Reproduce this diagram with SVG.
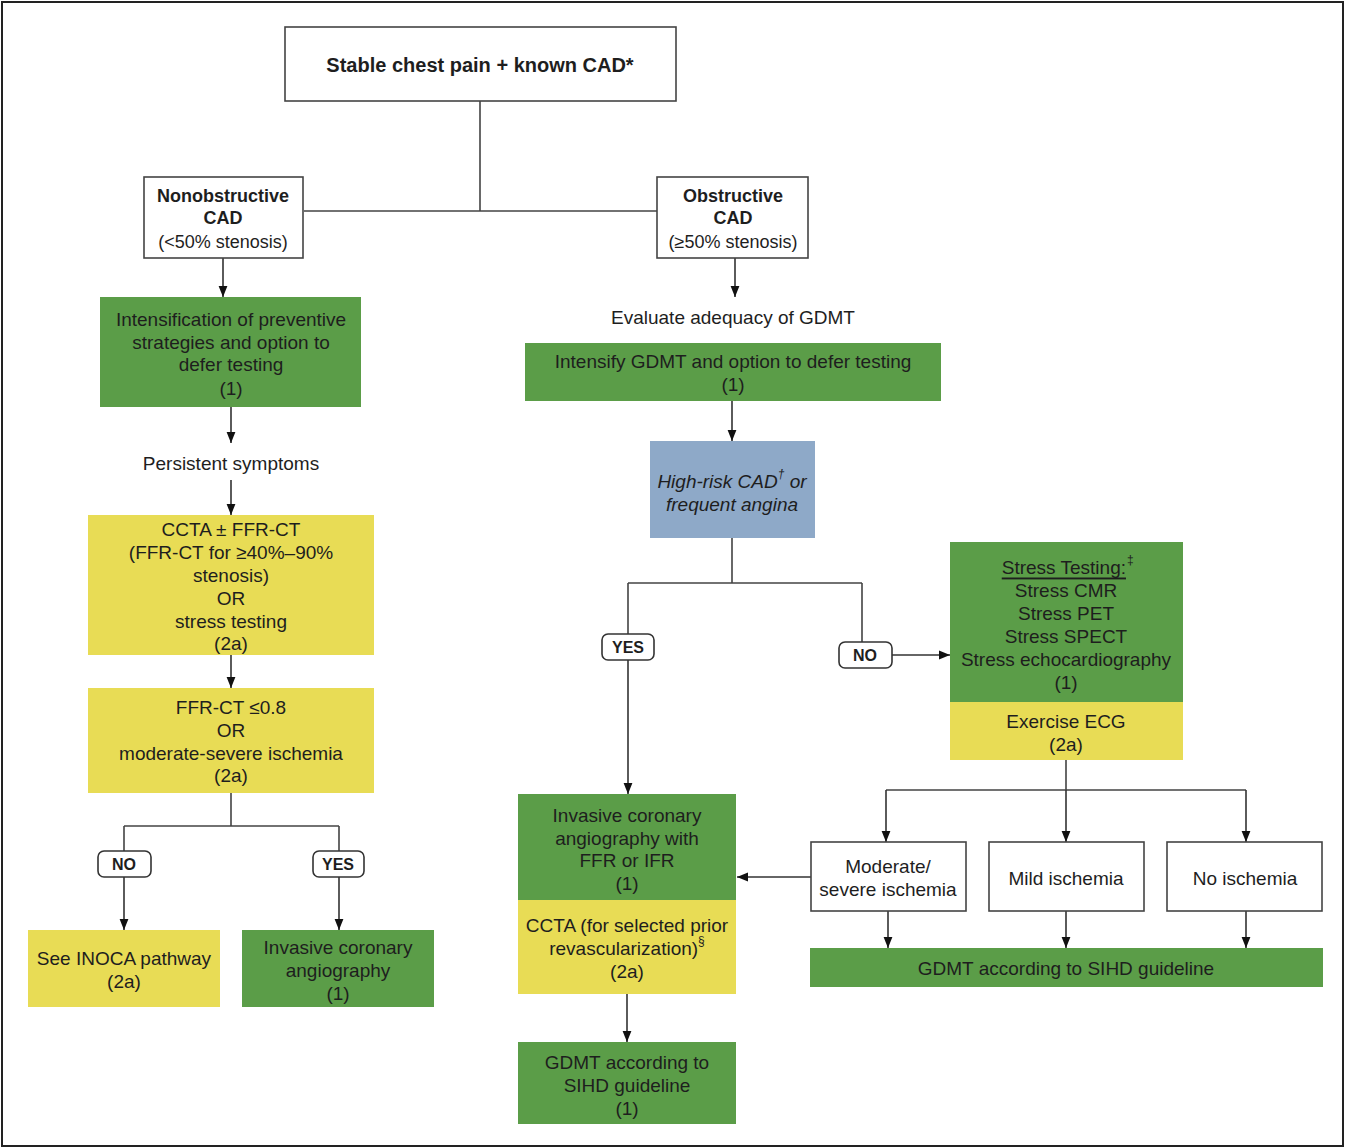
<svg xmlns="http://www.w3.org/2000/svg" width="1346" height="1148" viewBox="0 0 1346 1148">
<defs>
<marker id="ah" viewBox="0 0 10 10" refX="10" refY="5" markerWidth="11" markerHeight="11" markerUnits="userSpaceOnUse" orient="auto">
<path d="M0,1 L10,5 L0,9 z" fill="#111"/>
</marker>
<style>
text{font-family:"Liberation Sans",Arial,sans-serif;font-size:19px;fill:#1e1e1e;text-anchor:middle;dominant-baseline:central}
.b{font-weight:bold;font-size:18px}
.it{font-style:italic}
.wb{fill:#fff;stroke:#444;stroke-width:1.6}
.g{fill:#5b9d48}
.y{fill:#e8dc55}
.bl{fill:#8ea9c8}
.pill{fill:#fff;stroke:#333;stroke-width:1.6}
.pt{font-weight:bold;font-size:16px}
.sup{font-size:12px}
.c{fill:none;stroke:#444;stroke-width:1.6}
.a{fill:none;stroke:#333;stroke-width:1.6;marker-end:url(#ah)}
</style>
</defs>
<rect x="0" y="0" width="1346" height="1148" fill="#fff"/>
<rect x="2" y="2" width="1341" height="1144" fill="none" stroke="#222" stroke-width="2"/>

<g id="connectors">
<path class="c" d="M480,101 V211 M304,211 H657"/>
<path class="a" d="M223,258 V297"/>
<path class="a" d="M231,407 V443"/>
<path class="a" d="M231,480 V515"/>
<path class="a" d="M231,655 V688"/>
<path class="c" d="M231,793 V826 M124,826 H339 M124,826 V851 M339,826 V851"/>
<path class="a" d="M124,877 V930"/>
<path class="a" d="M339,877 V930"/>
<path class="a" d="M735,258 V297"/>
<path class="a" d="M732,401 V441"/>
<path class="c" d="M732,538 V583 M628,583 H862 M628,583 V634 M862,583 V642"/>
<path class="a" d="M628,660 V794"/>
<path class="a" d="M892,655 H950"/>
<path class="c" d="M1066,760 V790 M886,790 H1246"/>
<path class="a" d="M886,790 V842"/>
<path class="a" d="M1066,790 V842"/>
<path class="a" d="M1246,790 V842"/>
<path class="a" d="M811,877 H737"/>
<path class="a" d="M888,911 V948"/>
<path class="a" d="M1066,911 V948"/>
<path class="a" d="M1246,911 V948"/>
<path class="a" d="M627,994 V1042"/>
</g>

<g id="start">
<rect class="wb" x="285" y="27" width="391" height="74"/>
<text x="480" y="65" style="font-weight:bold;font-size:20px">Stable chest pain + known CAD*</text>
</g>

<g id="nonobstructive">
<rect class="wb" x="144" y="177" width="159" height="81"/>
<text class="b" x="223" y="196">Nonobstructive</text>
<text class="b" x="223" y="218">CAD</text>
<text x="223" y="242" style="font-size:18px">(&lt;50% stenosis)</text>
</g>

<g id="obstructive">
<rect class="wb" x="657" y="177" width="151" height="81"/>
<text class="b" x="733" y="196">Obstructive</text>
<text class="b" x="733" y="218">CAD</text>
<text x="733" y="242" style="font-size:18px">(≥50% stenosis)</text>
</g>

<g id="intensification">
<rect class="g" x="100" y="297" width="261" height="110"/>
<text x="231" y="319">Intensification of preventive</text>
<text x="231" y="342">strategies and option to</text>
<text x="231" y="364">defer testing</text>
<text x="231" y="388">(1)</text>
</g>

<g id="persistent">
<text x="231" y="463">Persistent symptoms</text>
</g>

<g id="ccta">
<rect class="y" x="88" y="515" width="286" height="140"/>
<text x="231" y="529">CCTA ± FFR-CT</text>
<text x="231" y="552">(FFR-CT for ≥40%–90%</text>
<text x="231" y="575">stenosis)</text>
<text x="231" y="598">OR</text>
<text x="231" y="621">stress testing</text>
<text x="231" y="643">(2a)</text>
</g>

<g id="ffrct">
<rect class="y" x="88" y="688" width="286" height="105"/>
<text x="231" y="707">FFR-CT ≤0.8</text>
<text x="231" y="730">OR</text>
<text x="231" y="753">moderate-severe ischemia</text>
<text x="231" y="775">(2a)</text>
</g>

<g id="no-left">
<rect class="pill" x="98" y="851" width="53" height="26" rx="6"/>
<text class="pt" x="124" y="864">NO</text>
</g>
<g id="yes-left">
<rect class="pill" x="313" y="851" width="51" height="26" rx="6"/>
<text class="pt" x="338" y="864">YES</text>
</g>

<g id="inoca">
<rect class="y" x="28" y="930" width="192" height="77"/>
<text x="124" y="958">See INOCA pathway</text>
<text x="124" y="981">(2a)</text>
</g>

<g id="ica-left">
<rect class="g" x="242" y="930" width="192" height="77"/>
<text x="338" y="947">Invasive coronary</text>
<text x="338" y="970">angiography</text>
<text x="338" y="993">(1)</text>
</g>

<g id="evaluate">
<text x="733" y="317">Evaluate adequacy of GDMT</text>
</g>

<g id="intensify-gdmt">
<rect class="g" x="525" y="343" width="416" height="58"/>
<text x="733" y="361">Intensify GDMT and option to defer testing</text>
<text x="733" y="384">(1)</text>
</g>

<g id="highrisk">
<rect class="bl" x="650" y="441" width="165" height="97"/>
<text class="it" x="732" y="481">High-risk CAD<tspan class="sup" dy="-7">†</tspan><tspan dy="7"> or</tspan></text>
<text class="it" x="732" y="504">frequent angina</text>
</g>

<g id="yes-right">
<rect class="pill" x="602" y="634" width="52" height="26" rx="6"/>
<text class="pt" x="628" y="647">YES</text>
</g>
<g id="no-right">
<rect class="pill" x="839" y="642" width="53" height="26" rx="6"/>
<text class="pt" x="865" y="655">NO</text>
</g>

<g id="stress">
<rect class="g" x="950" y="542" width="233" height="160"/>
<rect class="y" x="950" y="702" width="233" height="58"/>
<text x="1126" y="567" style="text-anchor:end" text-decoration="underline">Stress Testing:</text>
<text x="1127" y="560" class="sup" style="text-anchor:start">‡</text>
<text x="1066" y="590">Stress CMR</text>
<text x="1066" y="613">Stress PET</text>
<text x="1066" y="636">Stress SPECT</text>
<text x="1066" y="659">Stress echocardiography</text>
<text x="1066" y="682">(1)</text>
<text x="1066" y="721">Exercise ECG</text>
<text x="1066" y="744">(2a)</text>
</g>

<g id="moderate">
<rect class="wb" x="811" y="842" width="155" height="69"/>
<text x="888" y="866">Moderate/</text>
<text x="888" y="889">severe ischemia</text>
</g>
<g id="mild">
<rect class="wb" x="989" y="842" width="155" height="69"/>
<text x="1066" y="878">Mild ischemia</text>
</g>
<g id="noisch">
<rect class="wb" x="1167" y="842" width="155" height="69"/>
<text x="1245" y="878">No ischemia</text>
</g>

<g id="gdmt-wide">
<rect class="g" x="810" y="948" width="513" height="39"/>
<text x="1066" y="968">GDMT according to SIHD guideline</text>
</g>

<g id="ica-right">
<rect class="g" x="518" y="794" width="218" height="106"/>
<rect class="y" x="518" y="900" width="218" height="94"/>
<text x="627" y="815">Invasive coronary</text>
<text x="627" y="838">angiography with</text>
<text x="627" y="860">FFR or IFR</text>
<text x="627" y="883">(1)</text>
<text x="627" y="925">CCTA (for selected prior</text>
<text x="627" y="948">revascularization)<tspan class="sup" dy="-7">§</tspan></text>
<text x="627" y="971">(2a)</text>
</g>

<g id="gdmt-bottom">
<rect class="g" x="518" y="1042" width="218" height="82"/>
<text x="627" y="1062">GDMT according to</text>
<text x="627" y="1085">SIHD guideline</text>
<text x="627" y="1108">(1)</text>
</g>
</svg>
